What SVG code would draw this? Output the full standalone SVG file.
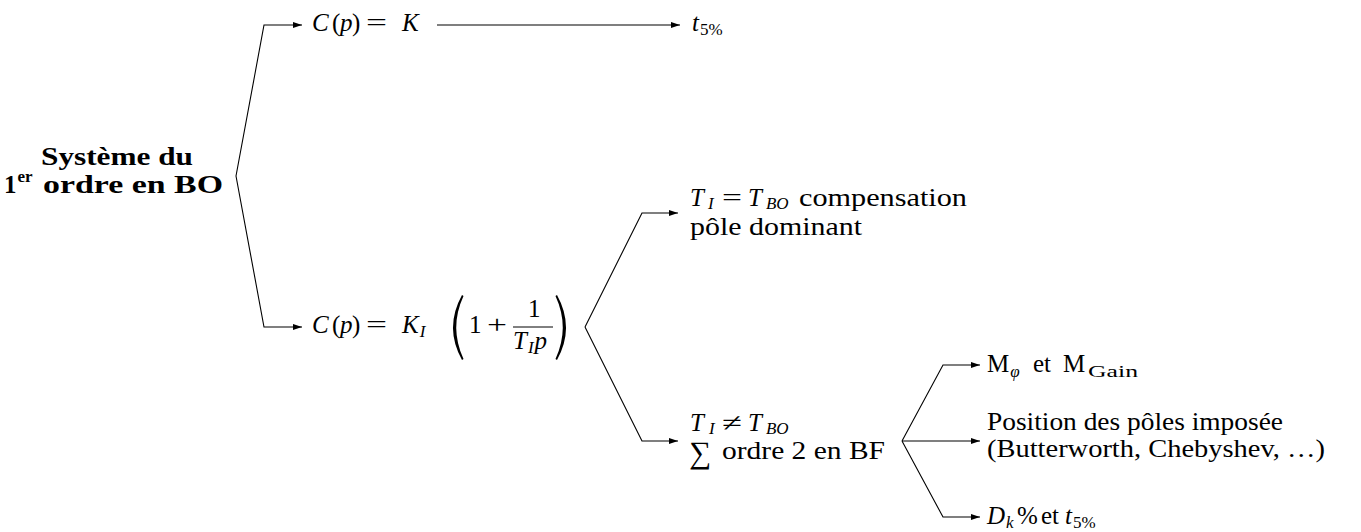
<svg xmlns="http://www.w3.org/2000/svg" width="1361" height="532" viewBox="0 0 1361 532">
<defs>
<style>
text{font-family:"Liberation Serif","Times New Roman",serif;font-size:25px;fill:#000}
.i{font-style:italic}
.n{font-style:normal}
.b{font-weight:bold}
.sub{font-size:17px}
.c{fill:none;stroke:#000;stroke-width:1.1}
.a{marker-end:url(#ah)}
</style>
<marker id="ah" markerUnits="userSpaceOnUse" markerWidth="10" markerHeight="7" refX="9" refY="3.5" orient="auto"><path d="M0,0.5 L9,3.5 L0,6.5 Z" fill="#000"/></marker>
</defs>
<rect width="1361" height="532" fill="#fff"/>
<g id="connectors">
<path class="c a" d="M236,176 L264,25 L302,25"/>
<path class="c a" d="M236,176 L264,327 L302,327"/>
<path class="c a" d="M437,25 L680,25"/>
<path class="c a" d="M585,327 L642,213 L678,213"/>
<path class="c a" d="M585,327 L642,441 L678,441"/>
<path class="c a" d="M902,441 L943,365 L980,365"/>
<path class="c a" d="M902,441 L980,441"/>
<path class="c a" d="M902,441 L943,517 L980,517"/>
</g>
<g id="n-root">
<text class="b" x="41" y="165" textLength="152" lengthAdjust="spacingAndGlyphs">Système du</text>
<text class="b" x="4" y="193">1<tspan class="sub" dx="1" dy="-11">er</tspan></text>
<text class="b" x="43" y="193" textLength="180" lengthAdjust="spacingAndGlyphs">ordre en BO</text>
</g>
<g id="n-ck">
<text class="i" x="312" y="31">C</text>
<text x="332" y="31">(</text>
<text class="i" x="340" y="31">p</text>
<text x="352" y="31">)</text>
<text x="366" y="31" textLength="21" lengthAdjust="spacingAndGlyphs">=</text>
<text class="i" x="402" y="31">K</text>
</g>
<g id="n-t5">
<text class="i" x="692" y="31">t<tspan class="sub n" dx="1" dy="4">5%</tspan></text>
</g>
<g id="n-cpi">
<text class="i" x="312" y="333">C</text>
<text x="332" y="333">(</text>
<text class="i" x="340" y="333">p</text>
<text x="352" y="333">)</text>
<text x="366" y="333" textLength="21" lengthAdjust="spacingAndGlyphs">=</text>
<text class="i" x="402" y="333">K<tspan class="sub" dx="1" dy="4">I</tspan></text>
<path d="M462,295 Q444,327.5 462,360 L463.5,359 Q449,327.5 463.5,296 Z" fill="#000"/>
<text x="469" y="333">1</text>
<text x="487" y="333" textLength="20" lengthAdjust="spacingAndGlyphs">+</text>
<text x="528" y="317">1</text>
<line x1="513" y1="327" x2="553" y2="327" stroke="#000" stroke-width="1"/>
<text class="i" x="513" y="349">T<tspan class="sub" dx="1" dy="4">I</tspan><tspan dx="1" dy="-4">p</tspan></text>
<path d="M557,295 Q575,327.5 557,360 L555.5,359 Q570,327.5 555.5,296 Z" fill="#000"/>
</g>
<g id="n-comp">
<text class="i" x="690" y="206">T<tspan class="sub" dx="4" dy="3">I</tspan></text>
<text x="722" y="206" textLength="20" lengthAdjust="spacingAndGlyphs">=</text>
<text class="i" x="748" y="206">T<tspan class="sub" dx="4" dy="3">BO</tspan></text>
<text x="799" y="206" textLength="168" lengthAdjust="spacingAndGlyphs">compensation</text>
<text x="690" y="235" textLength="172" lengthAdjust="spacingAndGlyphs">pôle dominant</text>
</g>
<g id="n-neq">
<text class="i" x="690" y="431">T<tspan class="sub" dx="5" dy="3">I</tspan></text>
<text x="722" y="431" textLength="20" lengthAdjust="spacingAndGlyphs">≠</text>
<text class="i" x="748" y="431">T<tspan class="sub" dx="4" dy="3">BO</tspan></text>
<text x="689" y="463" style="font-size:31px">∑</text>
<text x="722" y="459" textLength="163" lengthAdjust="spacingAndGlyphs">ordre 2 en BF</text>
</g>
<g id="n-marg">
<text x="987" y="372">M<tspan class="i sub" dx="1" dy="5">φ</tspan></text>
<text x="1033" y="372">et</text>
<text x="1063" y="372">M</text>
<text class="sub" x="1088" y="377" textLength="50" lengthAdjust="spacingAndGlyphs">Gain</text>
</g>
<g id="n-pos">
<text x="987" y="430" textLength="296" lengthAdjust="spacingAndGlyphs">Position des pôles imposée</text>
<text x="987" y="457" textLength="338" lengthAdjust="spacingAndGlyphs">(Butterworth, Chebyshev, …)</text>
</g>
<g id="n-dk">
<text class="i" x="987" y="524">D<tspan class="sub" dx="1" dy="4">k</tspan></text>
<text x="1017" y="524">%</text>
<text x="1041" y="524">et</text>
<text class="i" x="1065" y="524">t<tspan class="sub n" dx="1" dy="4">5%</tspan></text>
</g>
</svg>
